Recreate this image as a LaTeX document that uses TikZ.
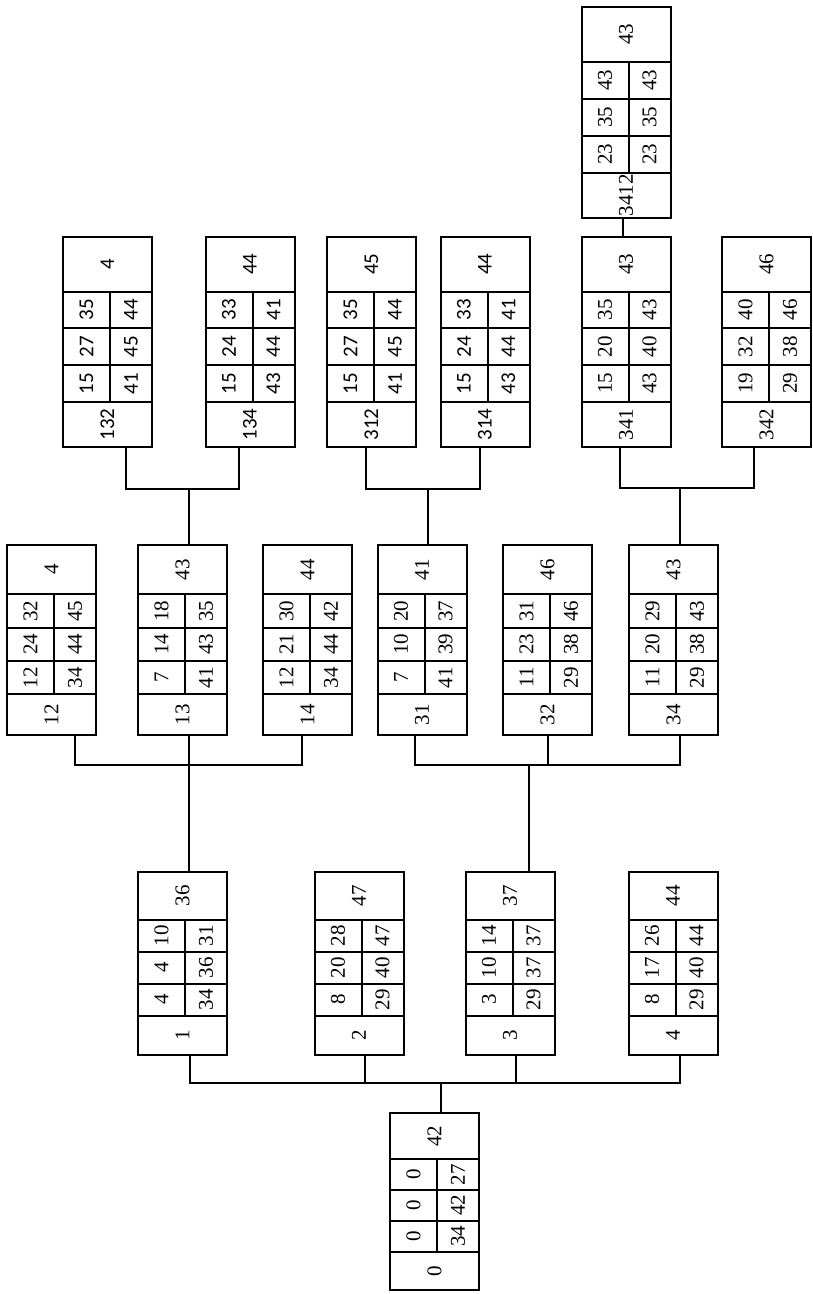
\documentclass[tikz,border=0pt]{standalone}
\usepackage{fontspec}
\usepackage{graphicx}
\setmainfont{Liberation Serif}
\newfontfamily\sansdigits{Carlito}
\usetikzlibrary{positioning}

% #1 font, #2 name, #3 x, #4 y (centre), #5 height, #6 bound, #7 rows, #8 label
\newcommand{\tbox}[8][]{%
  \pgfmathsetmacro{\tbW}{89}
  \pgfmathsetmacro{\tbT}{0.26*#5}
  \pgfmathsetmacro{\tbR}{0.175*#5}
  \pgfmathsetmacro{\tbB}{#5-\tbT-3*\tbR}
  \pgfmathsetmacro{\tbY}{#4-#5/2}
  \node[cell, #1, minimum width=\tbW pt, minimum height=\tbT pt] (#2-t)
    at (#3, {\tbY+\tbT/2}) {\rotatebox{90}{#6}};
  \foreach \lv/\rv [count=\i] in {#7} {
    \node[cell, #1, minimum width=47pt, minimum height=\tbR pt] (#2-l\i)
      at ({#3-\tbW/2+23.5}, {\tbY+\tbT+\tbR*(\i-0.5)}) {\rotatebox{90}{\lv}};
    \node[cell, #1, minimum width=42pt, minimum height=\tbR pt] (#2-r\i)
      at ({#3+\tbW/2-21}, {\tbY+\tbT+\tbR*(\i-0.5)}) {\rotatebox{90}{\rv}};
  }
  \node[cell, #1, minimum width=\tbW pt, minimum height=\tbB pt] (#2-b)
    at (#3, {#4+#5/2-\tbB/2}) {\rotatebox{90}{#8}};
}

\begin{document}
\begin{tikzpicture}[
  x=1pt, y=-1pt,
  cell/.style={rectangle, draw=black, line width=2pt, inner sep=0pt,
    font=\rmfamily\fontsize{21}{22}\selectfont},
  sans/.style={font=\sansdigits\fontsize{21}{22}\selectfont},
  conn/.style={draw=black, line width=2pt}
]
\useasboundingbox (0,0) rectangle (812,1294);

\tbox{n0}{434.5}{1201.5}{177}{42}{0/27,0/42,0/34}{0}

\tbox{n1}{182.5}{963.5}{183}{36}{10/31,4/36,4/34}{1}
\tbox{n2}{359}{963.5}{183}{47}{28/47,20/40,8/29}{2}
\tbox{n3}{510}{963.5}{183}{37}{14/37,10/37,3/29}{3}
\tbox{n4}{673}{963.5}{183}{44}{26/44,17/40,8/29}{4}

\tbox{n12}{51.5}{640}{190}{4}{32/45,24/44,12/34}{12}
\tbox{n13}{182.5}{640}{190}{43}{18/35,14/43,7/41}{13}
\tbox{n14}{307.5}{640}{190}{44}{30/42,21/44,12/34}{14}
\tbox{n31}{422}{640}{190}{41}{20/37,10/39,7/41}{31}
\tbox{n32}{547.5}{640}{190}{46}{31/46,23/38,11/29}{32}
\tbox{n34}{673.5}{640}{190}{43}{29/43,20/38,11/29}{34}

\tbox[sans]{n132}{107.5}{342}{210}{4}{35/44,27/45,15/41}{132}
\tbox[sans]{n134}{250}{342}{210}{44}{33/41,24/44,15/43}{134}
\tbox[sans]{n312}{371.5}{342}{210}{45}{35/44,27/45,15/41}{312}
\tbox[sans]{n314}{485}{342}{210}{44}{33/41,24/44,15/43}{314}
\tbox{n341}{626}{342}{210}{43}{35/43,20/40,15/43}{341}
\tbox{n342}{766.5}{342}{210}{46}{40/46,32/38,19/29}{342}

\tbox{n3412}{626}{112.5}{211}{43}{43/43,35/35,23/23}{3412}

\coordinate (j0) at (441,1083);
\coordinate (j1) at (189,765);
\coordinate (j3) at (529,765);
\coordinate (j13) at (189,489);
\coordinate (j31) at (428,489);
\coordinate (j34) at (680,488);

\draw[conn] ([xshift=6.5pt]n0-t.north) -- (j0);
\draw[conn] ([xshift=7.5pt]n1-b.south) |- (j0) -| ([xshift=7pt]n4-b.south);
\draw[conn] ([xshift=6pt]n2-b.south) -- ([xshift=6pt]n2-b.south |- j0);
\draw[conn] ([xshift=6pt]n3-b.south) -- ([xshift=6pt]n3-b.south |- j0);

\draw[conn] ([xshift=6.5pt]n1-t.north) -- (j1) -- ([xshift=6.5pt]n13-b.south);
\draw[conn] ([xshift=23.5pt]n12-b.south) |- (j1) -| ([xshift=-5.5pt]n14-b.south);

\draw[conn] ([xshift=19pt]n3-t.north) -- (j3);
\draw[conn] ([xshift=-7pt]n31-b.south) |- (j3) -| ([xshift=6.5pt]n34-b.south);
\draw[conn] (n32-b.south) -- (n32-b.south |- j3);

\draw[conn] ([xshift=6.5pt]n13-t.north) -- (j13);
\draw[conn] ([xshift=18.5pt]n132-b.south) |- (j13) -| ([xshift=-11pt]n134-b.south);

\draw[conn] ([xshift=6pt]n31-t.north) -- (j31);
\draw[conn] ([xshift=-5.5pt]n312-b.south) |- (j31) -| ([xshift=-5pt]n314-b.south);

\draw[conn] ([xshift=6.5pt]n34-t.north) -- (j34);
\draw[conn] ([xshift=-6pt]n341-b.south) |- (j34) -| ([xshift=-12.5pt]n342-b.south);

\draw[conn] ([xshift=-3pt]n341-t.north) -- ([xshift=-3pt]n3412-b.south);
\end{tikzpicture}
\end{document}
